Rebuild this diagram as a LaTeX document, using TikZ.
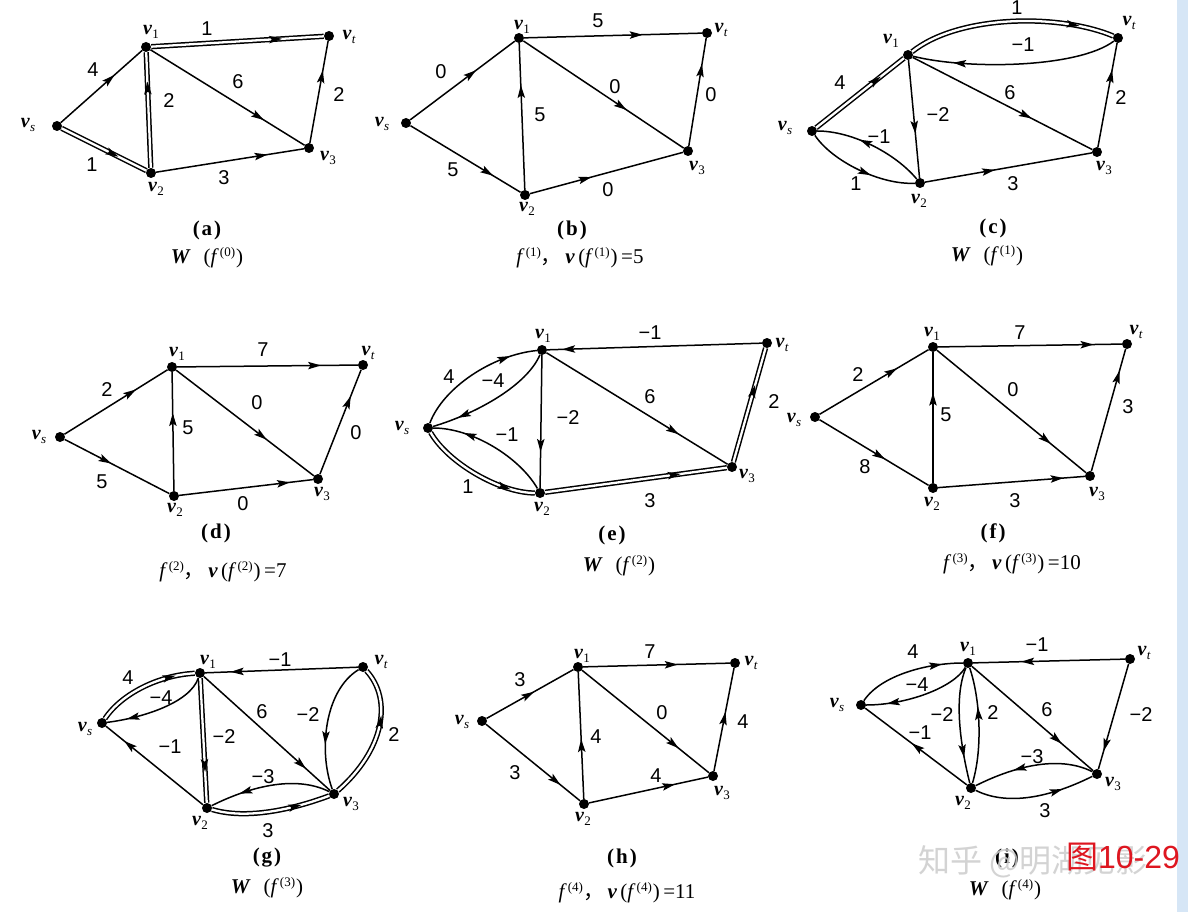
\documentclass[tikz,border=0pt]{standalone}
\usepackage{fontspec}
\setmainfont{Liberation Serif}
\setsansfont{Liberation Sans}
\newfontfamily\cjk{Noto Sans CJK SC}
\usetikzlibrary{decorations.markings}
\definecolor{stripblue}{RGB}{214,230,246}
\definecolor{figred}{RGB}{222,22,32}
\newcommand\vv[1]{{\bfseries\itshape v}\kern0.3pt\raisebox{-0.45ex}{\fontsize{13}{13}\selectfont #1}}
\newcommand\vvs{\vv{\itshape s}}
\newcommand\vvt{\vv{\itshape t}}
\newcommand\supp[1]{\raisebox{0.75ex}{\fontsize{13}{13}\selectfont(#1)}}
\newcommand\Wcap[1]{{\bfseries\itshape W}\enspace\,({\itshape f}\,\supp{#1}\kern1pt)}
\newcommand\Fcap[2]{{\itshape f}\,\supp{#1}{\cjk ，}\,{\bfseries\itshape v}\,({\itshape f}\,\supp{#1}\kern1pt)\,=#2}
\newcommand\Vx[4]{\node[vdot] (#1) at (#2) {}; \node[vl] (#1l) at (#3) {#4};}
\begin{document}
\begin{tikzpicture}[x=1pt,y=-1pt,
  vdot/.style={circle,fill=black,inner sep=0pt,minimum size=10pt},
  vl/.style={font=\fontsize{20}{20}\selectfont,inner sep=0pt},
  wt/.style={font=\sffamily\fontsize{20}{20}\selectfont,inner sep=0pt},
  capt/.style={font=\fontsize{21}{21}\selectfont,inner sep=0pt},
  ed/.style={line width=1.5pt},
  dbl/.style={line width=1.5pt,double=white,double distance=2.3pt},
  mk/.style={postaction={decorate,decoration={markings,mark=at position #1 with {\fill[black] (6.5pt,0pt) -- (-6.5pt,3.8pt) -- (-3.8pt,0pt) -- (-6.5pt,-3.8pt) -- cycle;}}}},
  mk/.default=0.65]
\useasboundingbox (0,0) rectangle (1188,912);
\fill[white] (0,0) rectangle (1188,912);
\fill[stripblue] (1177,0) rectangle (1188,912);

% (a)
\Vx{as}{57,126}{28,125}{\vvs}
\Vx{a1}{146,47}{151,32}{\vv1}
\Vx{at}{329,36}{349,37}{\vvt}
\Vx{a2}{151,173}{156,189}{\vv2}
\Vx{a3}{309,148}{328,158}{\vv3}
\draw[ed,mk=0.6] (as) -- (a1);
\draw[dbl,mk=0.72] (a1) -- (at);
\draw[dbl,mk=0.6] (as) -- (a2);
\draw[dbl,mk=0.69] (a2) -- (a1);
\draw[ed,mk=0.7] (a1) -- (a3);
\draw[ed,mk=0.65] (a3) -- (at);
\draw[ed,mk=0.71] (a2) -- (a3);
\node[wt] (aw1) at (207,29) {1};
\node[wt] (aw2) at (93,70) {4};
\node[wt] (aw3) at (169,101) {2};
\node[wt] (aw4) at (238,82) {6};
\node[wt] (aw5) at (339,95) {2};
\node[wt] (aw6) at (92,165) {1};
\node[wt] (aw7) at (224,178) {3};
\node[capt] (ac1) at (207,230) {\textbf{(\kern2pt a\kern2pt)}};
\node[capt] (ac2) at (207,258) {\Wcap{0}};

% (b)
\Vx{bs}{406,123}{382,124}{\vvs}
\Vx{b1}{519,38}{522,27}{\vv1}
\Vx{bt}{707,33}{721,30}{\vvt}
\Vx{b2}{525,195}{527,209}{\vv2}
\Vx{b3}{688,151}{697,168}{\vv3}
\draw[ed,mk=0.58] (bs) -- (b1);
\draw[ed,mk=0.63] (b1) -- (bt);
\draw[ed,mk=0.61] (b1) -- (b3);
\draw[ed,mk=0.7] (b3) -- (bt);
\draw[ed,mk=0.7] (bs) -- (b2);
\draw[ed,mk=0.67] (b2) -- (b1);
\draw[ed,mk=0.36] (b2) -- (b3);
\node[wt] (bw1) at (598,21) {5};
\node[wt] (bw2) at (441,72) {0};
\node[wt] (bw3) at (540,115) {5};
\node[wt] (bw4) at (615,87) {0};
\node[wt] (bw5) at (711,95) {0};
\node[wt] (bw6) at (453,170) {5};
\node[wt] (bw7) at (608,190) {0};
\node[capt] (bc1) at (572,230) {\textbf{(\kern2pt b\kern2pt)}};
\node[capt] (bc2) at (580,258) {\Fcap{1}{5}};

% (c)
\Vx{cs}{812,131}{785,128}{\vvs}
\Vx{c1}{908,55}{891,41}{\vv1}
\Vx{ct}{1118,38}{1129,23}{\vvt}
\Vx{c2}{920,183}{919,201}{\vv2}
\Vx{c3}{1097,152}{1104,168}{\vv3}
\draw[dbl,mk=0.68] (cs) -- (c1);
\draw[dbl,mk=0.8] (c1) .. controls +(50,-40) and +(-60,-25) .. (ct);
\draw[ed,mk=0.77] (ct) .. controls +(-40,30) and +(60,15) .. (c1);
\draw[ed,mk=0.57] (c1) -- (c2);
\draw[ed,mk=0.63] (c1) -- (c3);
\draw[ed,mk=0.68] (c3) -- (ct);
\draw[ed,mk=0.56] (c2) .. controls +(-25,-30) and +(40,0) .. (cs);
\draw[ed,mk=0.55] (cs) .. controls +(20,30) and +(-40,2) .. (c2);
\draw[ed,mk=0.38] (c2) -- (c3);
\node[wt] (cw1) at (1017,8) {1};
\node[wt] (cw2) at (1023,45) {−1};
\node[wt] (cw3) at (840,83) {4};
\node[wt] (cw4) at (938,115) {−2};
\node[wt] (cw5) at (1010,93) {6};
\node[wt] (cw6) at (1121,98) {2};
\node[wt] (cw7) at (879,137) {−1};
\node[wt] (cw8) at (856,184) {1};
\node[wt] (cw9) at (1013,184) {3};
\node[capt] (cc1) at (993,228) {\textbf{(\kern2pt c\kern2pt)}};
\node[capt] (cc2) at (987,256) {\Wcap{1}};

% (d)
\Vx{ds}{60,437}{39,437}{\vvs}
\Vx{d1}{172,367}{177,354}{\vv1}
\Vx{dt}{363,365}{368,353}{\vvt}
\Vx{d2}{174,496}{175,510}{\vv2}
\Vx{d3}{318,479}{322,494}{\vv3}
\draw[ed,mk=0.64] (ds) -- (d1);
\draw[ed,mk=0.76] (d1) -- (dt);
\draw[ed,mk=0.62] (d1) -- (d3);
\draw[ed,mk=0.69] (d3) -- (dt);
\draw[ed,mk=0.39] (ds) -- (d2);
\draw[ed,mk=0.6] (d2) -- (d1);
\draw[ed,mk=0.78] (d2) -- (d3);
\node[wt] (dw1) at (263,350) {7};
\node[wt] (dw2) at (107,390) {2};
\node[wt] (dw3) at (188,428) {5};
\node[wt] (dw4) at (257,403) {0};
\node[wt] (dw5) at (356,433) {0};
\node[wt] (dw6) at (102,482) {5};
\node[wt] (dw7) at (243,504) {0};
\node[capt] (dc1) at (216,533) {\textbf{(\kern2pt d\kern2pt)}};
\node[capt] (dc2) at (223,572) {\Fcap{2}{7}};

% (e)
\Vx{es}{428,428}{402,428}{\vvs}
\Vx{e1}{542,350}{543,336}{\vv1}
\Vx{et}{767,343}{782,345}{\vvt}
\Vx{e2}{540,493}{542,509}{\vv2}
\Vx{e3}{732,467}{747,476}{\vv3}
\draw[ed,mk=0.9] (et) -- (e1);
\draw[ed,mk=0.75] (es) .. controls +(15,-40) and +(-50,5) .. (e1);
\draw[ed,mk=0.75] (e1) .. controls +(-15,35) and +(50,-15) .. (es);
\draw[ed,mk=0.68] (e1) -- (e2);
\draw[ed,mk=0.7] (e1) -- (e3);
\draw[dbl,mk=0.62] (e3) -- (et);
\draw[ed,mk=0.7] (e2) .. controls +(-20,-35) and +(45,0) .. (es);
\draw[dbl,mk=0.75] (es) .. controls +(20,35) and +(-40,0) .. (e2);
\draw[dbl,mk=0.71] (e2) -- (e3);
\node[wt] (ew1) at (650,333) {−1};
\node[wt] (ew2) at (449,377) {4};
\node[wt] (ew3) at (493,381) {−4};
\node[wt] (ew4) at (568,418) {−2};
\node[wt] (ew5) at (650,397) {6};
\node[wt] (ew6) at (774,402) {2};
\node[wt] (ew7) at (507,435) {−1};
\node[wt] (ew8) at (468,487) {1};
\node[wt] (ew9) at (650,501) {3};
\node[capt] (ec1) at (612,535) {\textbf{(\kern2pt e\kern2pt)}};
\node[capt] (ec2) at (619,566) {\Wcap{2}};

% (f)
\Vx{fs}{815,417}{794,420}{\vvs}
\Vx{f1}{933,347}{932,334}{\vv1}
\Vx{ft}{1127,344}{1136,332}{\vvt}
\Vx{f2}{933,488}{932,504}{\vv2}
\Vx{f3}{1090,476}{1097,494}{\vv3}
\draw[ed,mk=0.66] (fs) -- (f1);
\draw[ed,mk=0.81] (f1) -- (ft);
\draw[ed,mk=0.73] (f1) -- (f3);
\draw[ed,mk=0.77] (f3) -- (ft);
\draw[ed,mk=0.55] (fs) -- (f2);
\draw[ed,mk=0.64] (f2) -- (f1);
\draw[ed,mk=0.81] (f2) -- (f3);
\node[wt] (fw1) at (1020,333) {7};
\node[wt] (fw2) at (858,375) {2};
\node[wt] (fw3) at (946,415) {5};
\node[wt] (fw4) at (1013,390) {0};
\node[wt] (fw5) at (1128,407) {3};
\node[wt] (fw6) at (865,467) {8};
\node[wt] (fw7) at (1015,501) {3};
\node[capt] (fc1) at (993,533) {\textbf{(\kern2pt f\kern2pt)}};
\node[capt] (fc2) at (1012,564) {\Fcap{3}{10}};

% (g)
\Vx{gs}{102,723}{85,729}{\vvs}
\Vx{g1}{200,673}{208,662}{\vv1}
\Vx{gt}{363,667}{381,662}{\vvt}
\Vx{g2}{207,808}{200,823}{\vv2}
\Vx{g3}{334,794}{351,804}{\vv3}
\draw[ed,mk=0.79] (gt) -- (g1);
\draw[dbl,mk=0.75] (gs) .. controls +(20,-30) and +(-40,2) .. (g1);
\draw[ed,mk=0.75] (g1) .. controls +(-10,30) and +(40,-5) .. (gs);
\draw[dbl,mk=0.7] (g1) -- (g2);
\draw[ed,mk=0.77] (g1) -- (g3);
\draw[ed,mk=0.6] (gt) .. controls +(-38,23) and +(-16,-44) .. (g3);
\draw[dbl,mk=0.6] (g3) .. controls +(50,-44) and +(30,33) .. (gt);
\draw[ed,mk=0.76] (g2) -- (gs);
\draw[ed,mk=0.7] (g3) .. controls +(-40,-20) and +(40,-20) .. (g2);
\draw[dbl,mk=0.7] (g2) .. controls +(40,12) and +(-40,15) .. (g3);
\node[wt] (gw1) at (280,660) {−1};
\node[wt] (gw2) at (128,678) {4};
\node[wt] (gw3) at (161,698) {−4};
\node[wt] (gw4) at (224,737) {−2};
\node[wt] (gw5) at (262,712) {6};
\node[wt] (gw6) at (308,715) {−2};
\node[wt] (gw7) at (394,735) {2};
\node[wt] (gw8) at (170,747) {−1};
\node[wt] (gw9) at (263,777) {−3};
\node[wt] (gw10) at (268,831) {3};
\node[capt] (gc1) at (267,858) {\textbf{(\kern2pt g\kern2pt)}};
\node[capt] (gc2) at (267,888) {\Wcap{3}};

% (h)
\Vx{hs}{482,721}{462,722}{\vvs}
\Vx{h1}{578,667}{582,656}{\vv1}
\Vx{ht}{735,663}{751,663}{\vvt}
\Vx{h2}{584,804}{583,819}{\vv2}
\Vx{h3}{713,776}{722,793}{\vv3}
\draw[ed,mk=0.48] (hs) -- (h1);
\draw[ed,mk=0.6] (h1) -- (ht);
\draw[ed,mk=0.72] (h1) -- (h3);
\draw[ed,mk=0.51] (h3) -- (ht);
\draw[ed,mk=0.74] (hs) -- (h2);
\draw[ed,mk=0.42] (h2) -- (h1);
\draw[ed,mk=0.67] (h2) -- (h3);
\node[wt] (hw1) at (650,652) {7};
\node[wt] (hw2) at (520,680) {3};
\node[wt] (hw3) at (662,713) {0};
\node[wt] (hw4) at (743,722) {4};
\node[wt] (hw5) at (596,737) {4};
\node[wt] (hw6) at (515,773) {3};
\node[wt] (hw7) at (656,776) {4};
\node[capt] (hc1) at (622,858) {\textbf{(\kern2pt h\kern2pt)}};
\node[capt] (hc2) at (627,893) {\Fcap{4}{11}};

% (i)
\Vx{is}{861,705}{837,705}{\vvs}
\Vx{i1}{968,663}{968,649}{\vv1}
\Vx{it}{1130,659}{1144,653}{\vvt}
\Vx{i2}{971,788}{963,803}{\vv2}
\Vx{i3}{1097,774}{1113,784}{\vv3}
\draw[ed,mk=0.64] (it) -- (i1);
\draw[ed,mk=0.75] (is) .. controls +(20,-30) and +(-40,0) .. (i1);
\draw[ed,mk=0.75] (i1) .. controls +(-15,25) and +(45,0) .. (is);
\draw[ed,mk=0.72] (i1) .. controls +(-15,35) and +(-10,-40) .. (i2);
\draw[ed,mk=0.6] (i2) .. controls +(12,-40) and +(12,35) .. (i1);
\draw[ed,mk=0.7] (i1) -- (i3);
\draw[ed,mk=0.77] (it) -- (i3);
\draw[ed,mk=0.49] (i2) -- (is);
\draw[ed,mk=0.61] (i3) .. controls +(-40,-20) and +(40,-20) .. (i2);
\draw[ed,mk=0.68] (i2) .. controls +(40,20) and +(-40,20) .. (i3);
\node[wt] (iw1) at (1037,645) {−1};
\node[wt] (iw2) at (913,652) {4};
\node[wt] (iw3) at (917,685) {−4};
\node[wt] (iw4) at (942,715) {−2};
\node[wt] (iw5) at (993,713) {2};
\node[wt] (iw6) at (1047,710) {6};
\node[wt] (iw7) at (1141,715) {−2};
\node[wt] (iw8) at (920,733) {−1};
\node[wt] (iw9) at (1032,757) {−3};
\node[wt] (iw10) at (1045,811) {3};
\node[capt] (ic1) at (1007,858) {\textbf{(\kern2pt i\kern2pt)}};
\node[capt] (ic2) at (1005,890) {\Wcap{4}};

% watermark and figure number
\node[inner sep=0pt,text=gray!40,opacity=0.85,font=\cjk\fontsize{32}{32}\selectfont] (wm) at (1033,862) {知乎\ @明湖见影};
\node[inner sep=0pt,text=figred,font=\fontsize{32}{32}\selectfont] (fig) at (1123,857) {{\cjk 图}{\sffamily 10-29}};
\end{tikzpicture}
\end{document}
